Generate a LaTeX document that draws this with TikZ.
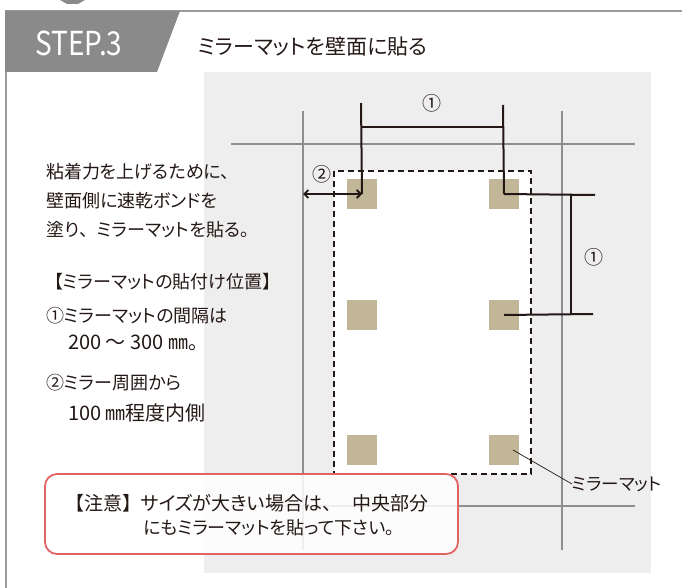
\documentclass[tikz,border=0pt]{standalone}
\usepackage{fontspec}
\setmainfont{Noto Sans CJK JP}[RawFeature={+palt}]
\newfontfamily\fullw{Noto Sans CJK JP}
\usetikzlibrary{arrows.meta,positioning}

\definecolor{tabgray}{HTML}{8A8A8A}
\definecolor{framegray}{HTML}{9C9C9C}
\definecolor{bggray}{HTML}{EEEEEE}
\definecolor{gridgray}{HTML}{8E8E8E}
\definecolor{matbeige}{HTML}{C2B699}
\definecolor{inkdark}{HTML}{231815}
\definecolor{notered}{HTML}{E06464}

\begin{document}
\begin{tikzpicture}[x=1pt, y=-1pt,
    gridline/.style={draw=gridgray, line width=2.6pt},
    mat/.style={fill=matbeige, minimum size=30pt, inner sep=0pt},
    dimline/.style={draw=inkdark, line width=2pt},
    txt/.style={font=\fontsize{18}{20}\selectfont, text=inkdark, anchor=west, inner sep=0pt},
    num/.style={font=\fontsize{19}{20}\selectfont, text=inkdark, inner sep=0pt}]
    \useasboundingbox (0,0) rectangle (682,588);

    % Header
    \fill[tabgray] (60,0) -- (85,0) -- (78,4) -- (67,4) -- cycle;
    \draw[framegray, line width=2pt] (682,11) -- (6,11) -- (6,588);
    \fill[tabgray] (5,11) -- (180,11) -- (157,72) -- (5,72) -- cycle;
    \node[font=\fontsize{33}{34}\selectfont, text=white, xscale=0.85, inner sep=0pt] (step) at (79,43) {STEP.3};
    \node[txt, font=\fontsize{21}{22}\selectfont] (title) at (198,47) {ミラーマットを壁面に貼る};

    % Wall background and studs
    \fill[bggray] (204,72) rectangle (651,573);
    \draw[gridline] (231,144) -- (635,144);
    \draw[gridline] (231,506) -- (635,506);
    \draw[gridline] (303,111) -- (303,550);
    \draw[gridline] (562,111) -- (562,550);

    % Mirror outline
    \draw[inkdark, line width=1.3pt, dash pattern=on 6pt off 4pt, fill=white] (334,171) rectangle (531,474);

    % Mats
    \foreach \r/\y in {1/194, 2/315, 3/450} {
        \node[mat] (mL\r) at (362,\y) {};
        \node[mat] (mR\r) at (504,\y) {};
    }

    % Spacing (1) horizontal
    \coordinate (topL) at (361,103);
    \coordinate (topR) at (503,105);
    \coordinate (hL) at (361,127);
    \coordinate (hR) at (503,127);
    \draw[dimline] (topL) -- (mL1.center);
    \draw[dimline] (topR) -- (mR1.center);
    \draw[dimline] (hL) -- (hR);
    \node[num] (n1a) at (432,103) {①};

    % Spacing (1) vertical
    \coordinate (sideA) at (595,195);
    \coordinate (sideB) at (593,314);
    \coordinate (vA) at (571,195);
    \coordinate (vB) at (571,314);
    \draw[dimline] (mR1.center) -- (sideA);
    \draw[dimline] (mR2.center) -- (sideB);
    \draw[dimline] (vA) -- (vB);
    \node[num] (n1b) at (594,257) {①};

    % Edge distance (2)
    \coordinate (edge) at (303,194);
    \draw[dimline, line width=1.8pt, {Straight Barb[length=4pt,width=8pt]}-{Straight Barb[length=4pt,width=8pt]}] (edge) -- (mL1.center);
    \node[num] (n2) at (322,174) {②};

    % Mat label
    \node[txt, font=\fontsize{17.5}{20}\selectfont] (matlbl) at (572,484) {ミラーマット};
    \coordinate (matpt) at (513,450);
    \draw[inkdark, line width=0.7pt] (matpt) -- (matlbl.west);

    % Left explanation
    \node[txt] (t1) at (46,172) {粘着力を上げるために、};
    \node[txt] (t2) at (46,201) {壁面側に速乾ボンドを};
    \node[txt] (t3) at (46,230) {塗り{\fullw 、}ミラーマットを貼る。};
    \node[txt] (t4) at (45,282) {{\fullw 【}ミラーマットの貼付け位置{\fullw 】}};
    \node[txt] (t5) at (46,316) {①ミラーマットの間隔は};
    \node[txt, font=\fontsize{20}{20}\selectfont] (t6) at (68,343) {\fullw 200 〜 300 ㎜。};
    \node[txt] (t7) at (46,383) {②ミラー周囲から};
    \node[txt, font=\fontsize{20}{20}\selectfont] (t8) at (68,413) {\fullw 100 ㎜程度内側};

    % Note box
    \draw[notered, line width=1.8pt, rounded corners=12pt, fill=white, fill opacity=0.85] (45,474) rectangle (458,554);
    \node[txt, font=\fontsize{19}{20}\selectfont] (w1) at (65,503) {\makebox[287pt][l]{{\fullw 【注意】}サイズが大きい場合は{\fullw 、}}中央部分};
    \node[txt] (w2) at (143,528) {にもミラーマットを貼って下さい。};
\end{tikzpicture}
\end{document}
